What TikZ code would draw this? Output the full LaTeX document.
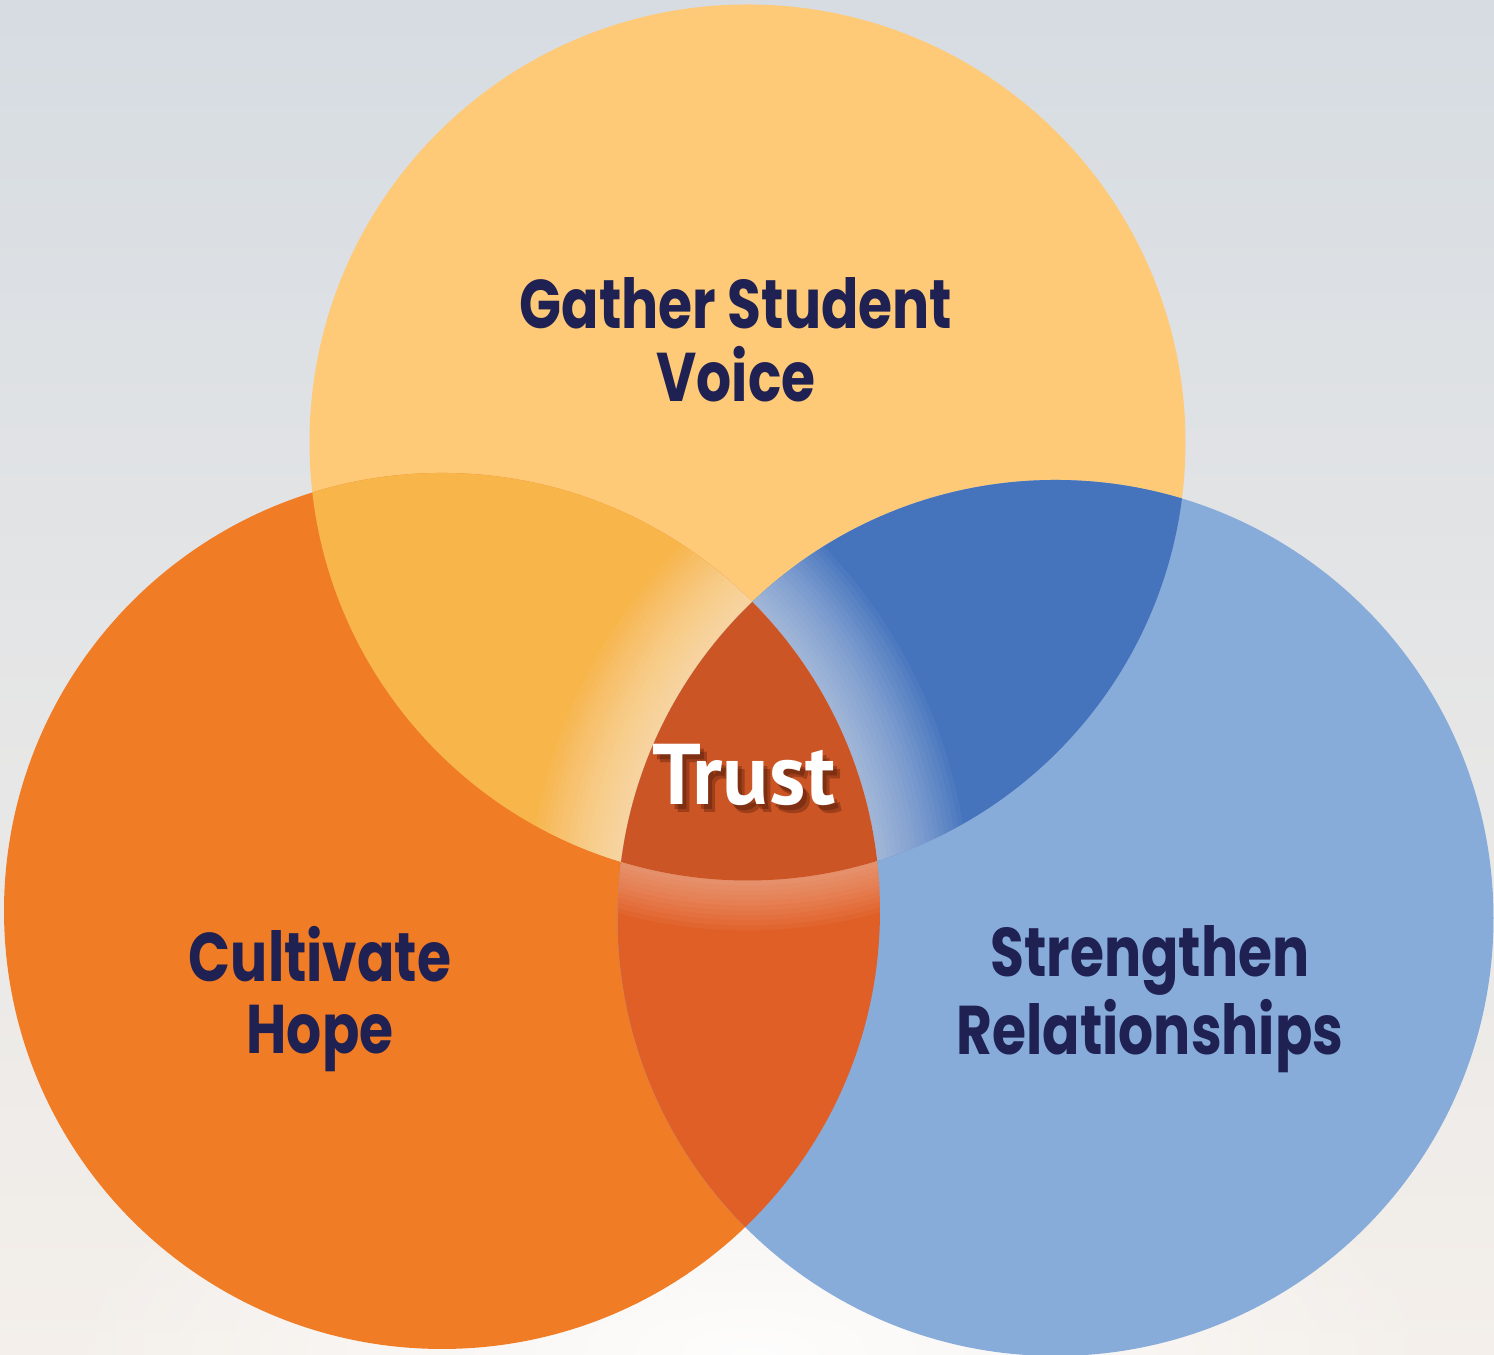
\documentclass[tikz,border=0pt]{standalone}
\usepackage{fontspec}
\setmainfont{Poppins}[FakeStretch=0.8]
\newfontfamily\trustfont{PT Sans}
\usetikzlibrary{fadings}
\definecolor{Navy}{HTML}{1F2152}
\definecolor{Sun}{HTML}{FECA78}
\definecolor{Flame}{HTML}{F17C26}
\definecolor{Sky}{HTML}{87ACDA}
\definecolor{SunFlame}{HTML}{F7B54A}
\definecolor{SunSky}{HTML}{4574BD}
\definecolor{FlameSky}{HTML}{E05F27}
\definecolor{Core}{HTML}{CC5526}
\definecolor{CloudTop}{HTML}{D6DCE2}
\definecolor{CloudMid}{HTML}{E2E5E8}
\definecolor{CloudLow}{HTML}{F4EFEA}
\definecolor{Shadow}{HTML}{4A1605}
\tikzfading[name=sunglow, inner color=transparent!10, outer color=transparent!100]

\begin{document}
\begin{tikzpicture}[
lbl/.style={text=Navy,align=center,font=\bfseries\fontsize{19.6}{20.6}\selectfont},
tr/.style={font=\trustfont\bfseries\fontsize{24.5}{24.5}\selectfont},
glow/.style={white,opacity=.04,line width=#1}]
\def\r{4.38}
\useasboundingbox (0,0) rectangle (14.94,13.55);
\shade[top color=CloudTop,middle color=CloudMid,bottom color=CloudLow] (0,0) rectangle (14.94,13.55);
\fill[white,path fading=sunglow] (7.5,0) ellipse (7 and 3);
\coordinate (T) at (7.475,9.125);
\coordinate (L) at (4.42,4.44);
\coordinate (R) at (10.555,4.37);
% the three circles
\fill[Sun] (T) circle (\r);
\fill[Flame] (L) circle (\r);
\fill[Sky] (R) circle (\r);
% pairwise overlaps
\begin{scope}
\clip (T) circle (\r);
\fill[SunFlame] (L) circle (\r);
\fill[SunSky] (R) circle (\r);
\end{scope}
\begin{scope}
\clip (L) circle (\r);
\fill[FlameSky] (R) circle (\r);
\end{scope}
% soft light round the middle
\begin{scope}
\clip (T) circle (\r); \clip (L) circle (\r);
\foreach \w in {1,...,18} \draw[glow=\w mm] (R) circle (\r);
\end{scope}
\begin{scope}
\clip (T) circle (\r); \clip (R) circle (\r);
\foreach \w in {1,...,18} \draw[glow=\w mm] (L) circle (\r);
\end{scope}
\begin{scope}
\clip (L) circle (\r); \clip (R) circle (\r);
\foreach \w in {1,...,10} \draw[glow=\w mm] (T) circle (\r);
\end{scope}
% middle
\begin{scope}
\clip (T) circle (\r); \clip (L) circle (\r);
\fill[Core] (R) circle (\r);
\end{scope}
\path
(7.36,10.15) node[lbl] (voice) {Gather Student\\Voice}
(3.20,3.56) node[lbl] (hope) {Cultivate\\Hope}
(11.50,3.56) node[lbl] (bond) {Strengthen\\Relationships}
;
\foreach \dx/\dy [count=\k] in {.04/-.05,.07/-.08}
  \node[tr,text=Shadow,opacity=.35] (shade\k) at ([shift={(\dx,\dy)}]7.44,5.80) {Trust};
\node[tr,text=white] (trust) at (7.44,5.80) {Trust};
\end{tikzpicture}
\end{document}
